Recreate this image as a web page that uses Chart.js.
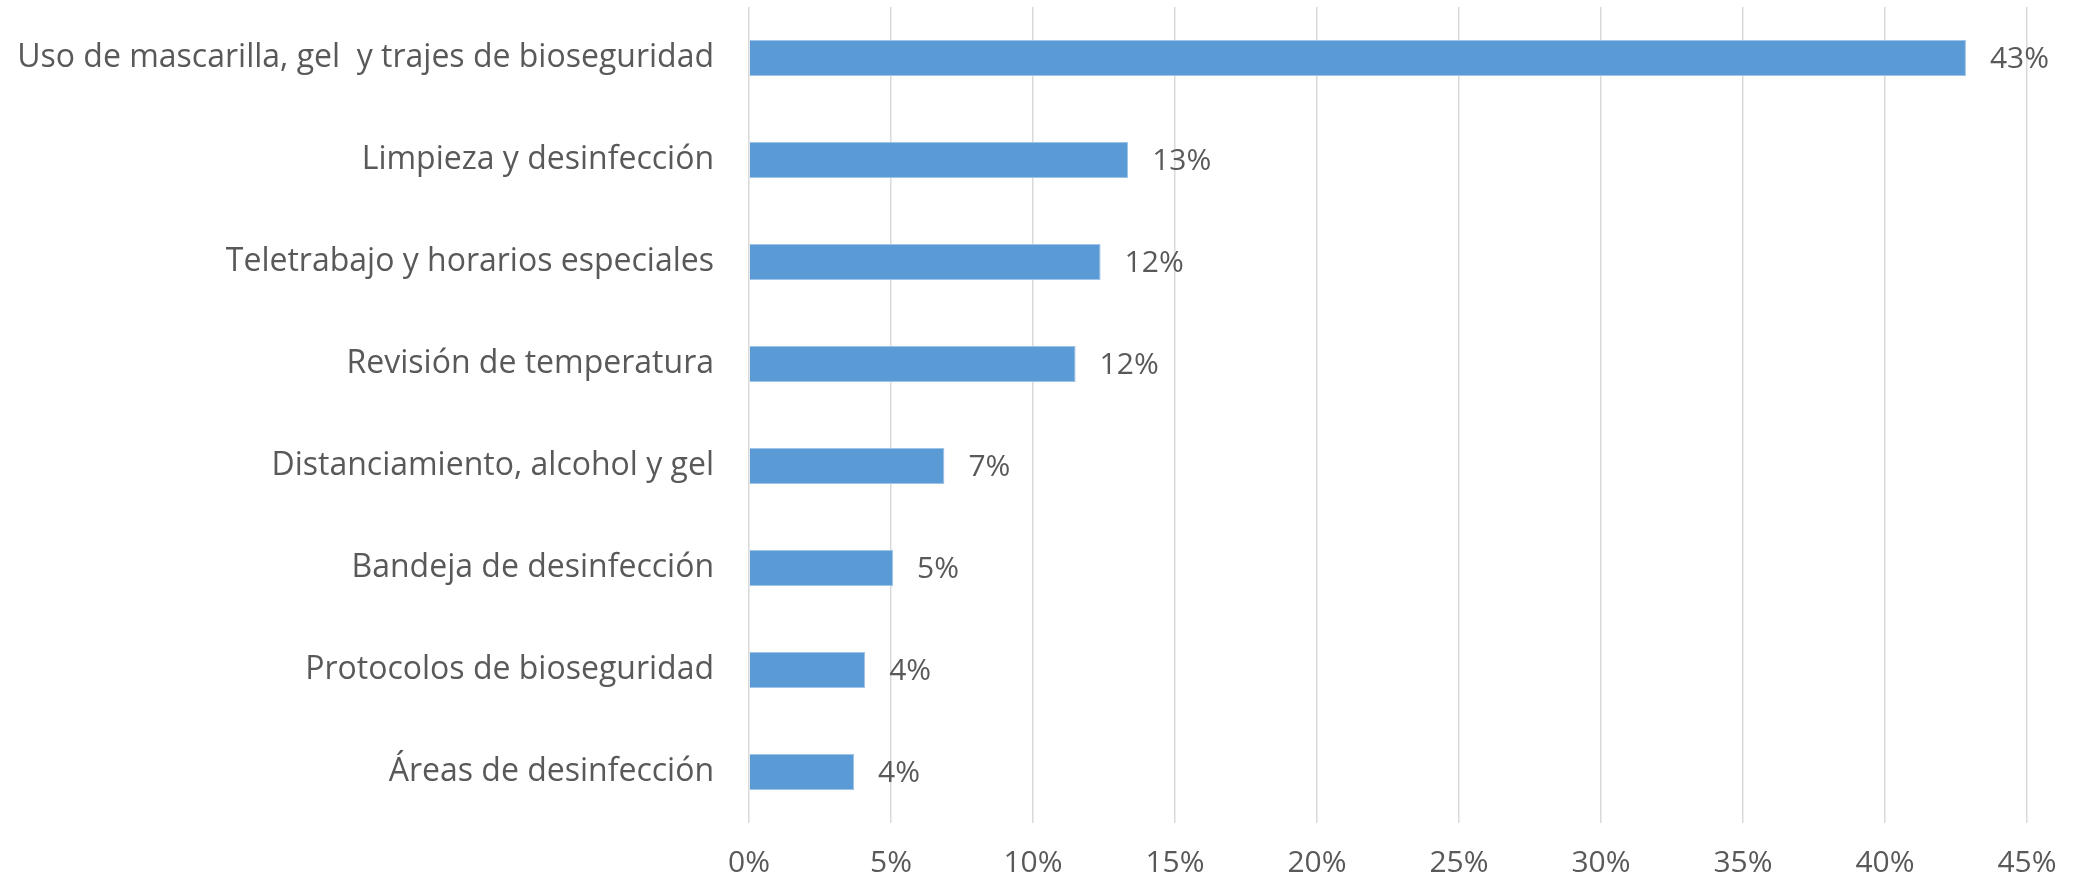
<!DOCTYPE html>
<html>
<head>
<meta charset="utf-8">
<script src="https://cdn.jsdelivr.net/npm/chart.js@4.4.0/dist/chart.umd.min.js"></script>
<style>
  html, body { margin: 0; padding: 0; background: #fff; }
  #wrap { width: 2074px; height: 881px; }
</style>
</head>
<body>
<div id="wrap"><canvas id="medidasChart" width="2074" height="881"></canvas></div>
<script>
const categories = [
    'Uso de mascarilla, gel  y trajes de bioseguridad',
    'Limpieza y desinfección',
    'Teletrabajo y horarios especiales',
    'Revisión de temperatura',
    'Distanciamiento, alcohol y gel',
    'Bandeja de desinfección',
    'Protocolos de bioseguridad',
    'Áreas de desinfección'
];
const percentages = [42.85, 13.35, 12.38, 11.5, 6.88, 5.07, 4.09, 3.7];
const xTicks = [0, 5, 10, 15, 20, 25, 30, 35, 40, 45];

const fontFamily = '"Open Sans", sans-serif';
const textColor = '#595959';

// draws the "43%" style labels at the end of each bar
const barLabels = {
    id: 'barLabels',
    afterDatasetsDraw(chart) {
        const c = chart.ctx;
        const meta = chart.getDatasetMeta(0);
        c.save();
        c.font = '30px ' + fontFamily;
        c.fillStyle = textColor;
        c.textAlign = 'left';
        c.textBaseline = 'middle';
        meta.data.forEach((bar, i) => {
            c.fillText(Math.round(percentages[i]) + '%', bar.x + 24, bar.y + 1);
        });
        c.restore();
    }
};

const ctx = document.getElementById('medidasChart').getContext('2d');

const chart = new Chart(ctx, {
    type: 'bar',
    data: {
        labels: categories,
        datasets: [{
            data: percentages,
            backgroundColor: '#5b9bd5',
            borderColor: '#9dc3e6',
            borderWidth: 1,
            categoryPercentage: 1,
            barPercentage: 0.355
        }]
    },
    options: {
        indexAxis: 'y',
        responsive: false,
        animation: false,
        layout: { padding: { top: 7, right: 47, left: 0, bottom: 0 } },
        plugins: {
            legend: { display: false },
            tooltip: { enabled: false }
        },
        scales: {
            x: {
                min: 0,
                max: 45,
                afterBuildTicks: (axis) => { axis.ticks = xTicks.map(v => ({ value: v })); },
                afterFit: (axis) => {
                    axis.height = 58;
                    axis.paddingLeft = 0;
                    axis.paddingRight = 0;
                },
                grid: { color: '#d9d9d9', lineWidth: 1.5, drawTicks: false },
                border: { display: false },
                ticks: {
                    padding: 22,
                    color: textColor,
                    font: { family: fontFamily, size: 30 },
                    callback: (value) => value + '%'
                }
            },
            y: {
                afterFit: (axis) => {
                    axis.width = 749;
                    axis.paddingTop = 0;
                    axis.paddingBottom = 0;
                },
                grid: { display: false, drawTicks: false },
                border: { display: false },
                ticks: {
                    padding: 35,
                    color: textColor,
                    font: { family: fontFamily, size: 32 }
                }
            }
        }
    },
    plugins: [barLabels]
});
</script>
</body>
</html>
